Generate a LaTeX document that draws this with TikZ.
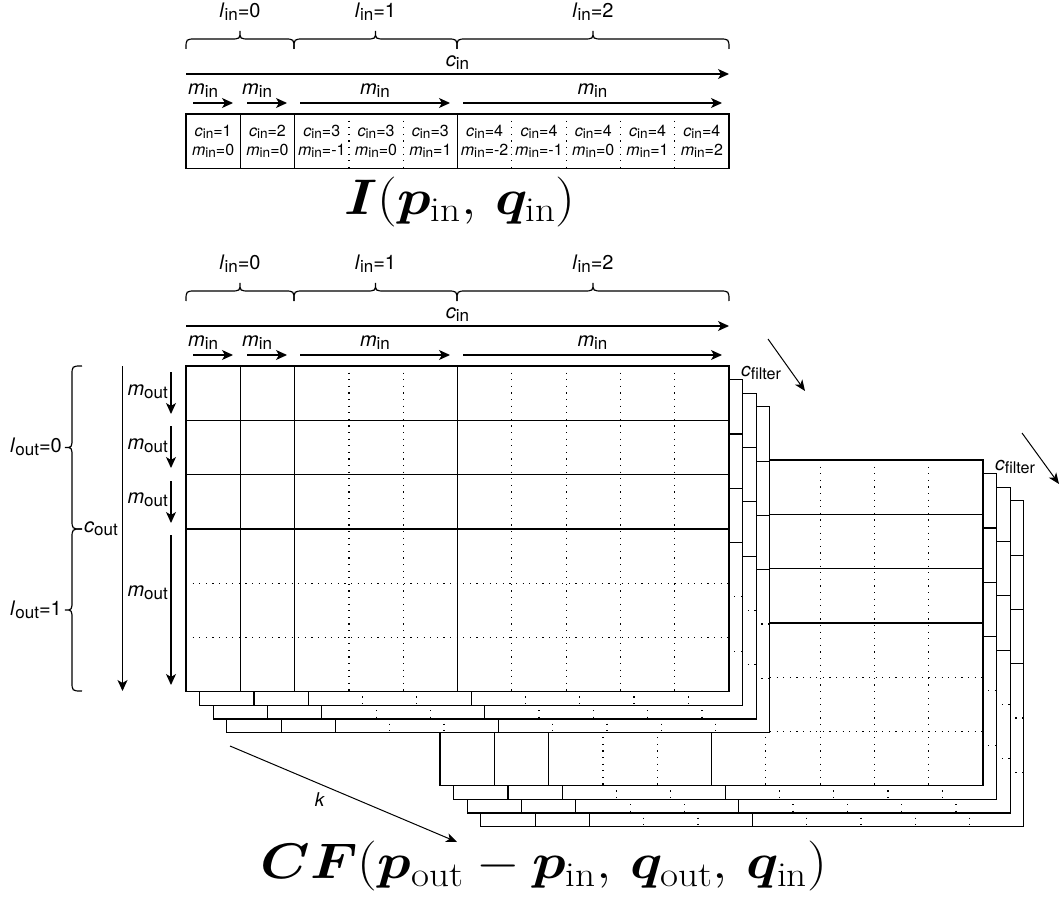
\RequirePackage{fix-cm}
\documentclass[tikz,border=0pt]{standalone}
\usepackage{amsmath}
\usepackage{bm}
\usepackage{graphicx}
\usepackage{fontspec}
\newfontfamily\hv{TeX Gyre Heros}
\usetikzlibrary{arrows.meta}
\newcommand\sbx[1]{\raisebox{-0.3ex}{\scalebox{0.85}{#1}}}
\newcommand\vv[2]{\textit{#1}\sbx{#2}}
\tikzset{
  lbl/.style={font=\hv\fontsize{20}{22}\selectfont, inner sep=0pt},
  flbl/.style={font=\hv\fontsize{19}{21}\selectfont, inner sep=0pt},
  klbl/.style={font=\hv\fontsize{19}{21}\selectfont, inner sep=0pt},
  celltxt/.style={font=\hv\fontsize{16}{19}\selectfont, align=center, inner sep=0pt},
  ln/.style={line width=1.2pt},
  dotl/.style={line width=1.2pt, dash pattern=on 1.2pt off 5.4pt},
  arr/.style={line width=1.2pt, -{Stealth[length=11pt,width=10pt,inset=3pt]}},
  tarr/.style={line width=1pt, -{Stealth[length=11pt,width=9pt,inset=3pt]}},
  brc/.style={line width=1.2pt},
  frm/.style={font=\fontsize{50}{54}\selectfont, inner sep=0pt}
}
% one layer of the filter grid, top-left corner at (#1,#2)
\newcommand\gridlayer[2]{%
 \begin{scope}[shift={(#1,#2)}]
  \draw[ln,fill=white] (0,0) rectangle (543,325.8);
  \foreach \ii in {1,2,5}{\draw[ln] (\ii*54.3,0) -- (\ii*54.3,325.8);}
  \foreach \ii in {3,4,6,7,8,9}{\draw[dotl] (\ii*54.3,0) -- (\ii*54.3,325.8);}
  \foreach \ii in {1,2,3}{\draw[ln] (0,\ii*54.3) -- (543,\ii*54.3);}
  \foreach \ii in {4,5}{\draw[dotl] (0,\ii*54.3) -- (543,\ii*54.3);}
 \end{scope}}
% horizontal brace: xa, xb, ytip, yline, yend
\newcommand\hbrc[5]{%
 \draw[brc] (#1,#5) .. controls (#1,#4) .. ({#1+10},#4) -- ({(#1+#2)/2-10},#4)
   .. controls ({(#1+#2)/2},#4) .. ({(#1+#2)/2},#3)
   .. controls ({(#1+#2)/2},#4) .. ({(#1+#2)/2+10},#4) -- ({#2-10},#4)
   .. controls (#2,#4) .. (#2,#5);}
% vertical brace: ya, yb, xtip, xline, xend
\newcommand\vbrc[5]{%
 \draw[brc] (#5,#1) .. controls (#4,#1) .. (#4,{#1+10}) -- (#4,{(#1+#2)/2-10})
   .. controls (#4,{(#1+#2)/2}) .. (#3,{(#1+#2)/2})
   .. controls (#4,{(#1+#2)/2}) .. (#4,{(#1+#2)/2+10}) -- (#4,{#2-10})
   .. controls (#4,#2) .. (#5,#2);}
% header above a block: #1 = y offset, #2 = name prefix
\newcommand\header[2]{%
 \node[lbl] (#2l0) at (240,12+#1) {\vv{l}{in}=0};
 \node[lbl] (#2l1) at (375.5,12+#1) {\vv{l}{in}=1};
 \node[lbl] (#2l2) at (593,12+#1) {\vv{l}{in}=2};
 \hbrc{186}{294}{31+#1}{39+#1}{49+#1}
 \hbrc{294}{457}{31+#1}{39+#1}{49+#1}
 \hbrc{457}{729}{31+#1}{39+#1}{49+#1}
 \node[lbl] (#2cin) at (457.5,63+#1) {\vv{c}{in}};
 \coordinate (#2cs) at (186,74+#1); \coordinate (#2ce) at (729,74+#1);
 \draw[arr] (#2cs) -- (#2ce);
 \node[lbl,anchor=west] (#2m0) at (188,91+#1) {\vv{m}{in}};
 \node[lbl,anchor=west] (#2m1) at (242,91+#1) {\vv{m}{in}};
 \node[lbl] (#2m2) at (375,91+#1) {\vv{m}{in}};
 \node[lbl] (#2m3) at (592.5,91+#1) {\vv{m}{in}};
 \coordinate (#2a0s) at (193,103+#1); \coordinate (#2a0e) at (233,103+#1);
 \coordinate (#2a1s) at (247,103+#1); \coordinate (#2a1e) at (287,103+#1);
 \coordinate (#2a2s) at (300,103+#1); \coordinate (#2a2e) at (450,103+#1);
 \coordinate (#2a3s) at (463,103+#1); \coordinate (#2a3e) at (722,103+#1);
 \draw[arr] (#2a0s) -- (#2a0e);
 \draw[arr] (#2a1s) -- (#2a1e);
 \draw[arr] (#2a2s) -- (#2a2e);
 \draw[arr] (#2a3s) -- (#2a3e);
}
\begin{document}
\begin{tikzpicture}[x=1pt,y=-1pt]
\useasboundingbox (0,0) rectangle (1060,901);

% ---------- input feature row ----------
\header{0}{A}
\draw[ln] (186,114) rectangle (729,168.3);
\foreach \ii in {1,2,5}{\draw[ln] ({186+\ii*54.3},114) -- ({186+\ii*54.3},168.3);}
\foreach \ii in {3,4,6,7,8,9}{\draw[dotl] ({186+\ii*54.3},114) -- ({186+\ii*54.3},168.3);}
\foreach \ii/\cc/\mm in {0/1/0,1/2/0,2/3/-1,3/3/0,4/3/1,5/4/-2,6/4/-1,7/4/0,8/4/1,9/4/2}{
  \node[celltxt] (cell\ii) at ({186+(\ii+0.5)*54.3},141.2) {\vv{c}{in}=\cc\\\vv{m}{in}=\mm};}
\node[frm] (Iform) at (460,202) {\scalebox{1.12}[1]{$\bm{I}(\bm{p}_{\mathrm{in}},\,\bm{q}_{\mathrm{in}})$}};

% ---------- filter stacks ----------
\foreach \L in {3,2,1,0}{\gridlayer{440+\L*13.6}{460+\L*13.6}}
\foreach \L in {3,2,1,0}{\gridlayer{186+\L*13.6}{366+\L*13.6}}

\header{252}{B}

% left side
\coordinate (couts) at (122.5,366); \coordinate (coute) at (122.5,691);
\draw[arr] (couts) -- (coute);
\node[lbl,anchor=east] (coutl) at (118,529) {\vv{c}{out}};
\foreach \ii/\aa/\bb/\yy in {0/372/414/392,1/426/468/446,2/481/523/500,3/535/685/593}{
  \coordinate (mo\ii s) at (171,\aa); \coordinate (mo\ii e) at (171,\bb);
  \draw[arr] (mo\ii s) -- (mo\ii e);
  \node[lbl,anchor=east] (mo\ii l) at (168,\yy) {\vv{m}{out}};}
\vbrc{366}{529}{65}{72}{82}
\vbrc{529}{691}{65}{72}{82}
\node[lbl,anchor=east] (lo0) at (62,447) {\vv{l}{out}=0};
\node[lbl,anchor=east] (lo1) at (62,610) {\vv{l}{out}=1};

% c_filter arrows
\node[flbl,anchor=west] (cf1) at (741,373) {\vv{c}{filter}};
\coordinate (cf1s) at (768,339); \coordinate (cf1e) at (805,391);
\draw[tarr] (cf1s) -- (cf1e);
\node[flbl,anchor=west] (cf2) at (995,467) {\vv{c}{filter}};
\coordinate (cf2s) at (1022,433); \coordinate (cf2e) at (1059,484);
\draw[tarr] (cf2s) -- (cf2e);

% k arrow
\coordinate (ks) at (230,746); \coordinate (ke) at (457,842);
\draw[tarr] (ks) -- (ke);
\node[klbl] (kl) at (320,800) {\textit{k}};

\node[frm] (CFform) at (544,866) {\scalebox{1.12}[1]{$\bm{CF}(\bm{p}_{\mathrm{out}}-\bm{p}_{\mathrm{in}},\,\bm{q}_{\mathrm{out}},\,\bm{q}_{\mathrm{in}})$}};
\end{tikzpicture}
\end{document}
